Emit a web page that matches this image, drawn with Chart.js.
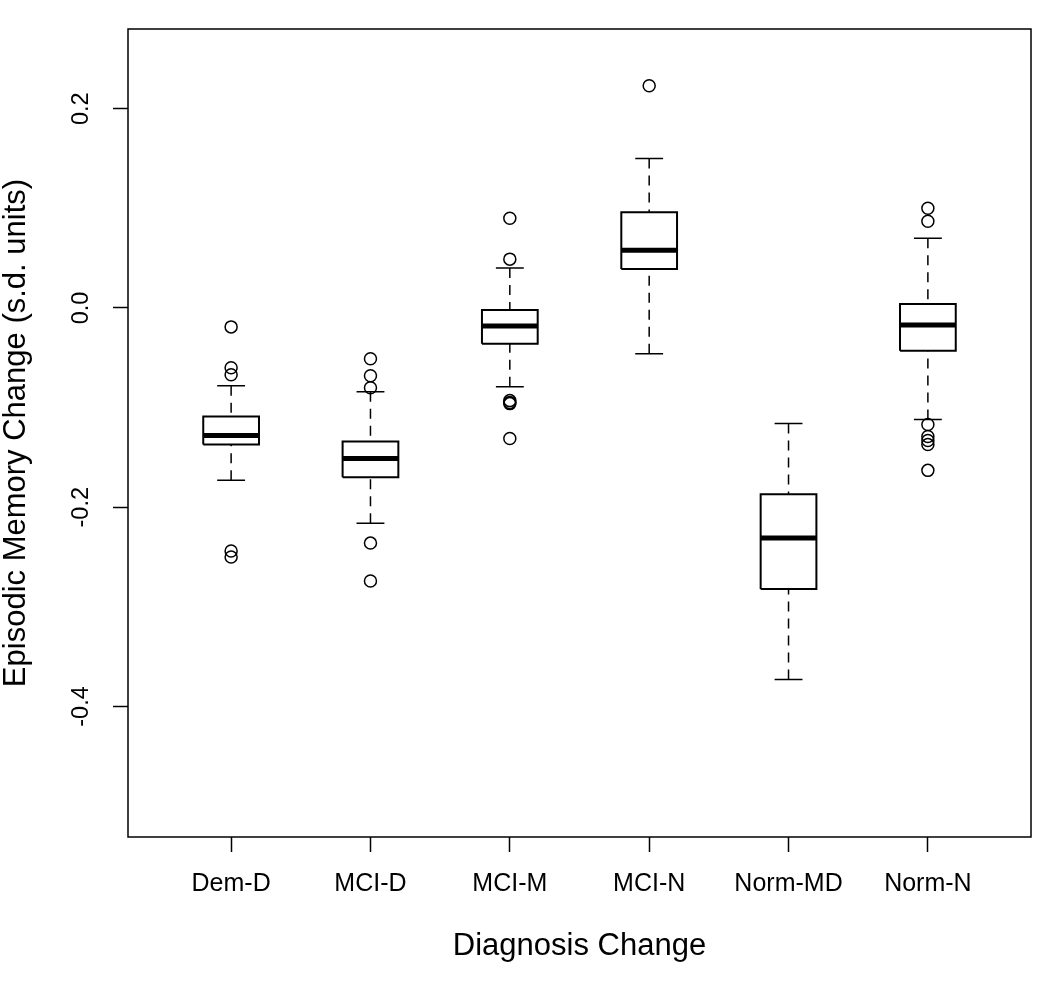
<!DOCTYPE html>
<html>
<head>
<meta charset="utf-8">
<script src="https://cdn.jsdelivr.net/npm/chart.js@4"></script>
<style>
body{margin:0;background:#fff;}
canvas{display:block;}
</style>
</head>
<body>
<canvas id="c" width="1050" height="981"></canvas>
<script>
// box plot stats (s.d. units)
var groups=['Dem-D','MCI-D','MCI-M','MCI-N','Norm-MD','Norm-N'];
var whiskLo=[-0.173,-0.216,-0.079,-0.046,-0.373,-0.112];
var q1=[-0.137,-0.170,-0.036,0.039,-0.282,-0.043];
var median=[-0.128,-0.151,-0.018,0.058,-0.231,-0.017];
var q3=[-0.109,-0.134,-0.002,0.096,-0.187,0.004];
var whiskHi=[-0.078,-0.084,0.040,0.150,-0.116,0.070];
var outliers=[
    [-0.019,-0.060,-0.067,-0.244,-0.250],
    [-0.051,-0.068,-0.080,-0.236,-0.274],
    [0.090,0.049,-0.093,-0.095,-0.096,-0.131],
    [0.223],
    [],
    [0.100,0.087,-0.117,-0.129,-0.133,-0.137,-0.163]
];
var yTicks=[-0.4,-0.2,0.0,0.2];

var BOX_HALF=0.2, CAP_HALF=0.1;
var FONT='"Liberation Sans", Arial, Helvetica, sans-serif';

var boxPts=[],medPts=[],whiskPts=[],capPts=[],outPts=[];
groups.forEach(function(g,i){
    var x=i+1;
    boxPts.push({x:x-BOX_HALF,y:q1[i]},{x:x-BOX_HALF,y:q3[i]},{x:x+BOX_HALF,y:q3[i]},{x:x+BOX_HALF,y:q1[i]},{x:x-BOX_HALF,y:q1[i]},{x:x,y:null});
    medPts.push({x:x-BOX_HALF,y:median[i]},{x:x+BOX_HALF,y:median[i]},{x:x,y:null});
    whiskPts.push({x:x,y:whiskLo[i]},{x:x,y:q1[i]},{x:x,y:null},{x:x,y:whiskHi[i]},{x:x,y:q3[i]},{x:x,y:null});
    capPts.push({x:x-CAP_HALF,y:whiskLo[i]},{x:x+CAP_HALF,y:whiskLo[i]},{x:x,y:null},{x:x-CAP_HALF,y:whiskHi[i]},{x:x+CAP_HALF,y:whiskHi[i]},{x:x,y:null});
    outliers[i].forEach(function(v){outPts.push({x:x,y:v});});
});

function seg(data,w,dash){
    return {type:'line',data:data,borderColor:'#000',borderWidth:w,borderDash:dash||[],pointRadius:0,tension:0,spanGaps:false,fill:false,borderCapStyle:'butt'};
}

var frame={
    id:'frame',
    afterDraw:function(chart){
        var a=chart.chartArea,ctx=chart.ctx;
        ctx.save();
        ctx.strokeStyle='#000';ctx.lineWidth=1.5;
        ctx.strokeRect(a.left,a.top,a.right-a.left,a.bottom-a.top);
        ctx.restore();
    }
};

new Chart(document.getElementById('c').getContext('2d'),{
    type:'scatter',
    data:{datasets:[
        seg(whiskPts,1.5,[10,7]),
        seg(capPts,1.5),
        seg(boxPts,2),
        seg(medPts,5),
        {type:'scatter',data:outPts,pointStyle:'circle',pointRadius:6,pointBorderWidth:1.5,pointBorderColor:'#000',pointBackgroundColor:'rgba(0,0,0,0)',showLine:false}
    ]},
    options:{
        responsive:false,animation:false,
        layout:{padding:{top:29,right:19,left:0,bottom:0}},
        plugins:{legend:{display:false},tooltip:{enabled:false}},
        scales:{
            x:{
                type:'linear',min:0.26,max:6.74,
                afterFit:function(s){s.height=144;},
                afterBuildTicks:function(s){s.ticks=groups.map(function(g,i){return {value:i+1};});},
                ticks:{autoSkip:false,maxRotation:0,minRotation:0,padding:17,color:'#000',font:{family:FONT,size:25},
                    callback:function(v){return groups[Math.round(v)-1];}},
                grid:{drawOnChartArea:false,drawTicks:true,tickLength:15,tickColor:'#000',tickWidth:1.5},
                border:{display:false},
                title:{display:true,text:'Diagnosis Change',color:'#000',font:{family:FONT,size:31,lineHeight:1},padding:{top:0,bottom:19.5}}
            },
            y:{
                type:'linear',min:-0.531,max:0.280,
                afterFit:function(s){s.width=128;},
                afterBuildTicks:function(s){s.ticks=yTicks.map(function(v){return {value:v};});},
                ticks:{minRotation:90,maxRotation:90,crossAlign:'center',padding:11,color:'#000',font:{family:FONT,size:23.5},
                    callback:function(v){return v.toFixed(1);}},
                grid:{drawOnChartArea:false,drawTicks:true,tickLength:15,tickColor:'#000',tickWidth:1.5},
                border:{display:false},
                title:{display:true,text:'Episodic Memory Change (s.d. units)',color:'#000',font:{family:FONT,size:31,lineHeight:1},padding:{top:1,bottom:0}}
            }
        }
    },
    plugins:[frame]
});
</script>
</body>
</html>
